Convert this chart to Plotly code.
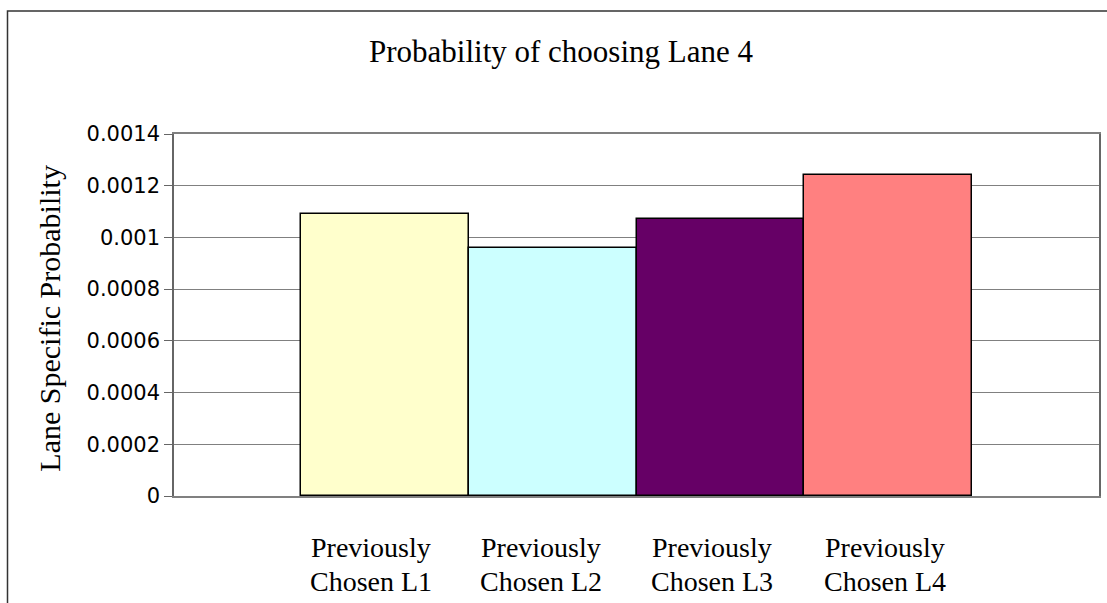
import plotly.graph_objects as go

# Lane choice data
categories = ["Previously Chosen L1", "Previously Chosen L2",
              "Previously Chosen L3", "Previously Chosen L4"]
label_line1 = ["Previously", "Previously", "Previously", "Previously"]
label_line2 = ["Chosen L1", "Chosen L2", "Chosen L3", "Chosen L4"]
probabilities = [0.00109, 0.00096, 0.00107, 0.00124]
bar_colors = ["#FFFFCC", "#CCFFFF", "#660066", "#FF8080"]

y_tickvals = [0, 0.0002, 0.0004, 0.0006, 0.0008, 0.001, 0.0012, 0.0014]
y_ticktext = ["0", "0.0002", "0.0004", "0.0006", "0.0008", "0.001", "0.0012", "0.0014"]

# small horizontal nudges for the category captions (in bar units)
label_nudge = [-0.08, -0.07, -0.05, -0.02]

SERIF = "Liberation Serif, Times New Roman, serif"
SANS = "DejaVu Sans, Verdana, sans-serif"

fig = go.Figure()
fig.add_trace(go.Bar(
    x=list(range(len(categories))),
    y=probabilities,
    width=1.0,
    marker=dict(color=bar_colors, line=dict(color="#000000", width=1.5)),
    hovertext=categories,
    showlegend=False,
))

annotations = []
for i in range(len(categories)):
    annotations.append(dict(
        x=i + label_nudge[i], y=-0.143, xref="x", yref="paper",
        text=label_line1[i], showarrow=False, xanchor="center", yanchor="middle",
        font=dict(family=SERIF, size=28, color="#000000"), borderpad=0,
    ))
    annotations.append(dict(
        x=i + label_nudge[i], y=-0.237, xref="x", yref="paper",
        text=label_line2[i], showarrow=False, xanchor="center", yanchor="middle",
        font=dict(family=SERIF, size=28, color="#000000"), borderpad=0,
    ))

# vertical axis caption
annotations.append(dict(
    x=-0.134, y=0.49, xref="paper", yref="paper",
    text="Lane Specific Probability", textangle=-90, showarrow=False,
    xanchor="center", yanchor="middle",
    font=dict(family=SERIF, size=30, color="#000000"),
))

fig.update_layout(
    width=1107, height=603,
    margin=dict(l=174, r=6, t=134, b=107),
    paper_bgcolor="#FFFFFF",
    plot_bgcolor="#FFFFFF",
    bargap=0,
    title=dict(
        text="Probability of choosing Lane 4",
        x=0.5068, xref="container", xanchor="center",
        y=0.915, yref="container", yanchor="middle",
        font=dict(family=SERIF, size=31, color="#000000"),
    ),
    xaxis=dict(
        range=[-1.255, 4.255],
        showticklabels=False, ticks="",
        showgrid=False, zeroline=False,
        showline=True, linecolor="#808080", linewidth=1.5, mirror=True,
        fixedrange=True,
    ),
    yaxis=dict(
        range=[0, 0.0014],
        tickvals=y_tickvals, ticktext=y_ticktext,
        ticks="outside", ticklen=8, tickcolor="#666666", tickwidth=1,
        tickfont=dict(family=SANS, size=21, color="#000000"),
        showgrid=True, gridcolor="#808080", gridwidth=1,
        zeroline=False,
        showline=True, linecolor="#666666", linewidth=1.5, mirror=True,
        fixedrange=True,
    ),
    annotations=annotations,
    shapes=[dict(
        type="rect", xref="paper", yref="paper",
        x0=-0.180, x1=1.02, y0=-0.32, y1=1.3398,
        line=dict(color="#333333", width=1.5), fillcolor="rgba(0,0,0,0)",
        layer="below",
    )],
)

fig.write_html("out.html")
